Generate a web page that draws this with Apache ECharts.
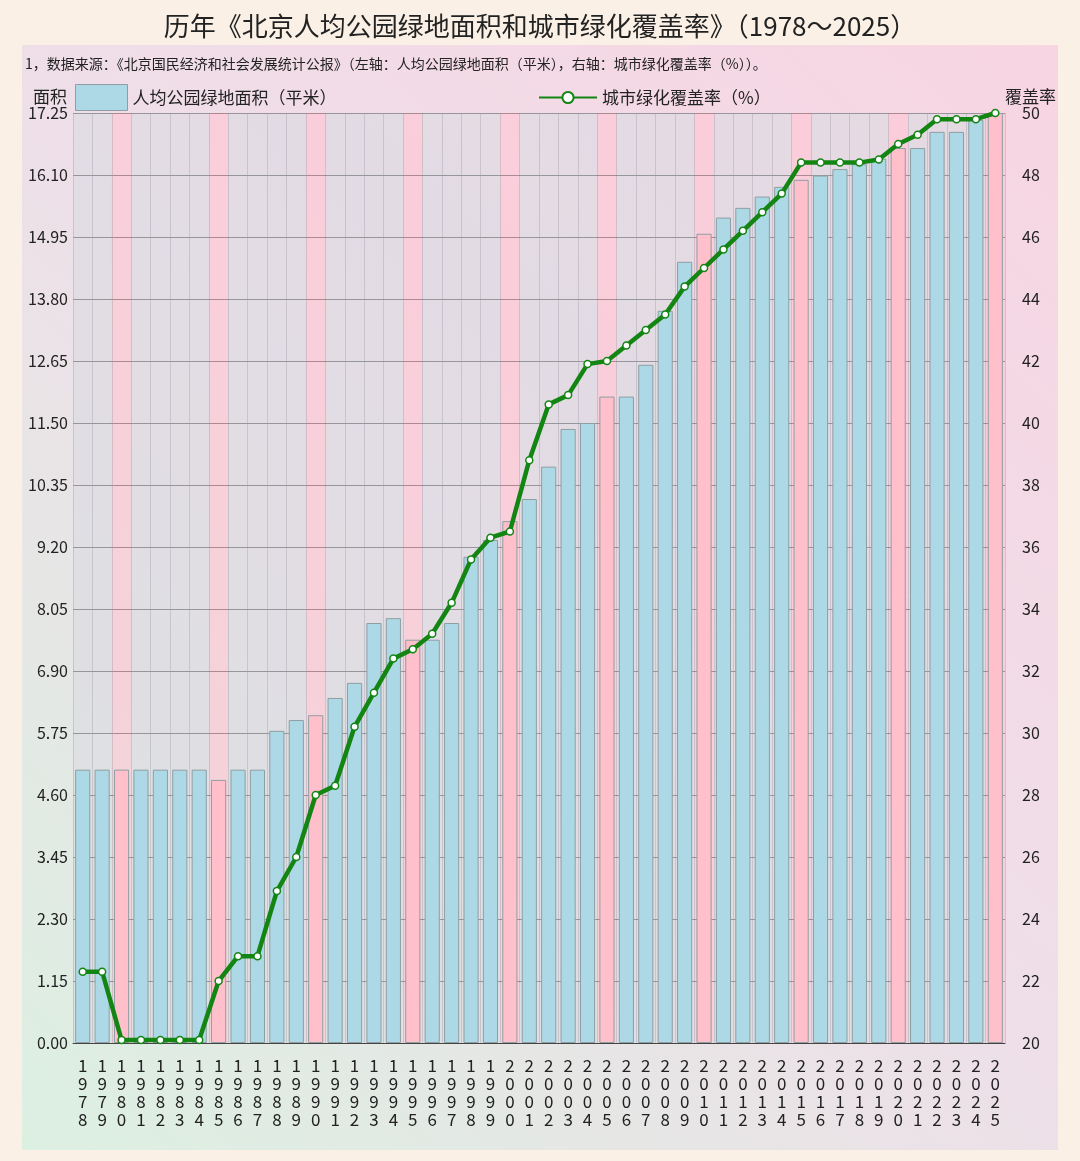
<!DOCTYPE html>
<html>
<head>
<meta charset="utf-8">
<script src="https://cdn.jsdelivr.net/npm/echarts@6/dist/echarts.min.js"></script>
<style>
  html, body { margin: 0; padding: 0; background: #faf0e6; }
  #chart { width: 1080px; height: 1161px; }
</style>
</head>
<body>
<div id="chart"></div>
<script>
var years = ["1978", "1979", "1980", "1981", "1982", "1983", "1984", "1985", "1986", "1987",
  "1988", "1989", "1990", "1991", "1992", "1993", "1994", "1995", "1996", "1997",
  "1998", "1999", "2000", "2001", "2002", "2003", "2004", "2005", "2006", "2007",
  "2008", "2009", "2010", "2011", "2012", "2013", "2014", "2015", "2016", "2017",
  "2018", "2019", "2020", "2021", "2022", "2023", "2024", "2025"];

// 人均公园绿地面积（平米）
var parkArea = [5.07, 5.07, 5.07, 5.07, 5.07, 5.07, 5.07, 4.88, 5.07, 5.07,
  5.79, 5.99, 6.08, 6.40, 6.68, 7.79, 7.88, 7.48, 7.48, 7.79,
  9.02, 9.33, 9.68, 10.09, 10.69, 11.39, 11.50, 11.99, 11.99, 12.58,
  13.58, 14.49, 15.01, 15.31, 15.49, 15.70, 15.88, 16.01, 16.09, 16.21,
  16.30, 16.40, 16.60, 16.60, 16.90, 16.90, 17.12, 17.25];

// 城市绿化覆盖率（%）
var coverage = [22.3, 22.3, 20.1, 20.1, 20.1, 20.1, 20.1, 22.0, 22.8, 22.8,
  24.9, 26.0, 28.0, 28.3, 30.2, 31.3, 32.4, 32.7, 33.2, 34.2,
  35.6, 36.3, 36.5, 38.8, 40.6, 40.9, 41.9, 42.0, 42.5, 43.0,
  43.5, 44.4, 45.0, 45.6, 46.2, 46.8, 47.4, 48.4, 48.4, 48.4,
  48.4, 48.5, 49.0, 49.3, 49.8, 49.8, 49.8, 50.0];

var areaName = "人均公园绿地面积（平米）";
var rateName = "城市绿化覆盖率（%）";
var font = "'Noto Sans CJK SC', 'Noto Sans', sans-serif";
var blue = "#add8e6";
var pink = "#ffc0cb";
var green = "#138513";

var chart = echarts.init(document.getElementById("chart"));

var option = {
  backgroundColor: "#faf0e6",
  textStyle: { fontFamily: font },
  graphic: [
    {
      type: "rect",
      z: -10,
      shape: { x: 22, y: 45, width: 1036, height: 1105 },
      style: {
        fill: new echarts.graphic.LinearGradient(1, 0, 0, 1, [
          { offset: 0, color: "#f8d5e3" },
          { offset: 0.5, color: "#eedfe8" },
          { offset: 1, color: "#dcf0e2" }
        ])
      }
    }
  ],
  title: [
    {
      text: "历年《北京人均公园绿地面积和城市绿化覆盖率》（1978～2025）",
      left: "center",
      top: 8,
      textStyle: { fontSize: 26, fontWeight: "normal", color: "#222", fontFamily: font }
    },
    {
      text: "1，数据来源：《北京国民经济和社会发展统计公报》（左轴：人均公园绿地面积（平米），右轴：城市绿化覆盖率（%））。",
      left: 20,
      top: 52,
      textStyle: { fontSize: 14, fontWeight: "normal", color: "#222", fontFamily: font }
    }
  ],
  legend: [
    {
      data: [{ name: areaName, icon: "rect", itemStyle: { color: blue, borderColor: "#8e9ea3", borderWidth: 1 } }],
      left: 75,
      top: 84,
      padding: 0,
      itemWidth: 52,
      itemHeight: 26,
      textStyle: { fontSize: 17, color: "#222" }
    },
    {
      data: [rateName],
      left: 538,
      top: 89,
      padding: 0,
      itemWidth: 58,
      itemHeight: 14,
      textStyle: { fontSize: 17, color: "#222" }
    }
  ],
  grid: { left: 73, right: 75, top: 113, bottom: 118 },
  xAxis: {
    type: "category",
    data: years,
    axisTick: { show: false },
    axisLine: { lineStyle: { color: "#444", width: 1 } },
    axisLabel: {
      interval: 0,
      fontSize: 17,
      lineHeight: 18,
      color: "#222",
      margin: 14,
      formatter: function (v) { return v.split("").join("\n"); }
    },
    splitLine: { show: true, lineStyle: { color: "rgba(150,150,160,0.35)", width: 1 } },
    splitArea: {
      show: true,
      areaStyle: {
        color: [
          "rgba(218,218,225,0.6)", "rgba(218,218,225,0.6)", "rgba(255,196,210,0.6)",
          "rgba(218,218,225,0.6)", "rgba(218,218,225,0.6)"
        ]
      }
    }
  },
  yAxis: [
    {
      type: "value",
      name: "面积",
      nameGap: 6,
      nameTextStyle: { fontSize: 17, color: "#222", align: "right", padding: [0, 6, 0, 0] },
      min: 0,
      max: 17.25,
      interval: 1.15,
      axisLine: { show: false },
      axisTick: { show: false },
      axisLabel: {
        fontSize: 16,
        color: "#222",
        margin: 5,
        formatter: function (v) { return v.toFixed(2); }
      },
      splitLine: { lineStyle: { color: "#333", width: 1 } }
    },
    {
      type: "value",
      name: "覆盖率",
      nameGap: 6,
      nameTextStyle: { fontSize: 17, color: "#222", align: "left" },
      min: 20,
      max: 50,
      interval: 2,
      axisLine: { show: false },
      axisTick: { show: false },
      axisLabel: { fontSize: 16, color: "#222", margin: 17 },
      splitLine: { show: false }
    }
  ],
  series: [
    {
      name: areaName,
      type: "bar",
      data: parkArea,
      barWidth: "78%",
      itemStyle: {
        color: function (p) {
          return Number(years[p.dataIndex]) % 5 === 0 ? pink : blue;
        },
        borderColor: "#8e9ea3",
        borderWidth: 1
      }
    },
    {
      name: rateName,
      type: "line",
      yAxisIndex: 1,
      data: coverage,
      symbol: "circle",
      symbolSize: 7,
      z: 5,
      lineStyle: { color: green, width: 4.5 },
      itemStyle: { color: "#ffffff", borderColor: green, borderWidth: 1.5 }
    }
  ]
};

chart.setOption(option);
</script>
</body>
</html>
